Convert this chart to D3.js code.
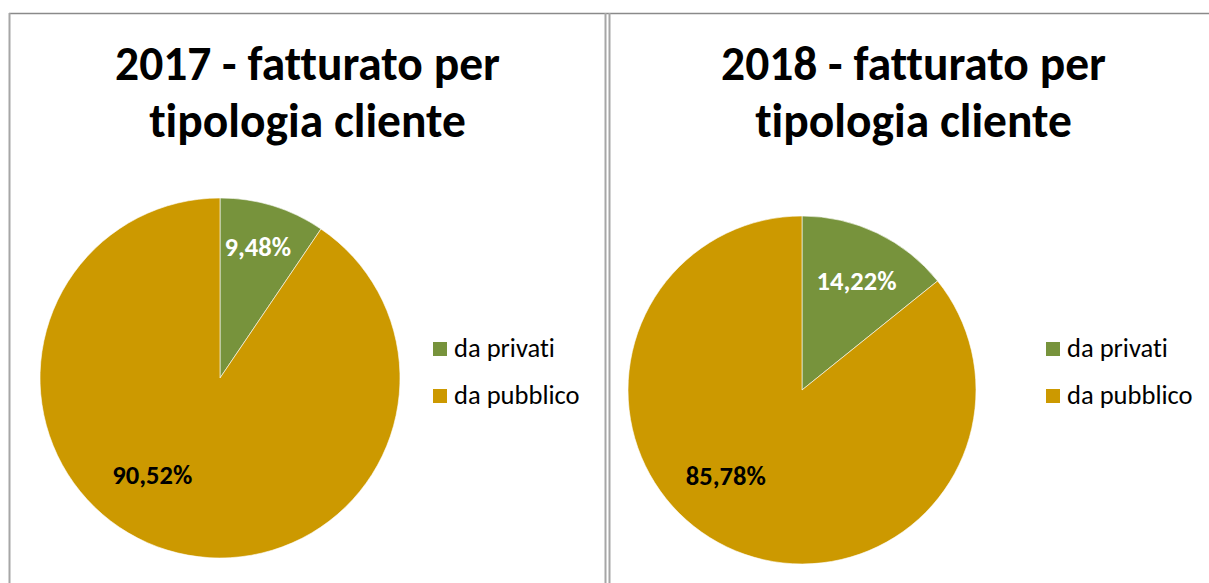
<!DOCTYPE html>
<html>
<head>
<meta charset="utf-8">
<script src="https://cdn.jsdelivr.net/npm/d3@7"></script>
<style>
  body { margin: 0; background: #fff; }
  svg { display: block; }
  text { font-family: Carlito, Calibri, "Open Sans", sans-serif; font-variant-ligatures: none; font-feature-settings: "liga" 0, "clig" 0; }
</style>
</head>
<body>
<div id="chart"></div>
<script>
// data
const categories = ['da privati', 'da pubblico'];
const years = ['2017', '2018'];
const values2017 = [9.48, 90.52];
const values2018 = [14.22, 85.78];
const valueLabels2017 = ['9,48%', '90,52%'];
const valueLabels2018 = ['14,22%', '85,78%'];
const titleLines = ['fatturato per', 'tipologia cliente'];

const colors = ['#77933C', '#CC9900'];
const labelColors = ['#ffffff', '#000000'];

const width = 1209;
const height = 583;

// panel layout
const panels = [
    { x: 9.5, w: 596, cx: 220, cy: 378, r: 180, legendX: 433,
      values: values2017, labels: valueLabels2017, year: years[0],
      labelPos: [{ f: 0.76, da: -1 }, { f: 0.655, da: 18 }] },
    { x: 609.5, w: 608, cx: 802, cy: 390, r: 174, legendX: 1046,
      values: values2018, labels: valueLabels2018, year: years[1],
      labelPos: [{ f: 0.70, da: 1 }, { f: 0.66, da: 16 }] }
];

const svg = d3.select('#chart')
    .append('svg')
    .attr('width', width)
    .attr('height', height);

// fit a text's font size to a target width
const fitSize = (str, weight, base, target) => {
    const t = svg.append('text')
        .attr('font-size', base)
        .attr('font-weight', weight)
        .text(str);
    const w = t.node().getComputedTextLength();
    t.remove();
    return base * target / w;
};

const titleSize = fitSize('2017 - fatturato per', 'bold', 40, 385);
const labelSize = fitSize('90,52%', 'bold', 22, 80);
const legendSize = fitSize('da privati', 'normal', 20, 101);

// borders
svg.append('line')
    .attr('x1', 9).attr('x2', width)
    .attr('y1', 13.5).attr('y2', 13.5)
    .attr('stroke', '#8a8a8a')
    .attr('stroke-width', 1.5);

[9.5, 605.5, 609.5].forEach(x => {
    svg.append('line')
        .attr('x1', x).attr('x2', x)
        .attr('y1', 13).attr('y2', height)
        .attr('stroke', '#a6a6a6')
        .attr('stroke-width', 2);
});

const pie = d3.pie().sort(null).value(d => d);

panels.forEach(p => {
    const g = svg.append('g');

    // title
    const title = g.append('text')
        .attr('text-anchor', 'middle')
        .attr('font-weight', 'bold')
        .attr('font-size', titleSize)
        .attr('fill', '#000');
    title.append('tspan')
        .attr('x', p.x + p.w / 2)
        .attr('y', 80)
        .text(`${p.year} - ${titleLines[0]}`);
    title.append('tspan')
        .attr('x', p.x + p.w / 2)
        .attr('y', 137)
        .text(titleLines[1]);

    // pie
    const arc = d3.arc().innerRadius(0).outerRadius(p.r);
    const pieG = g.append('g')
        .attr('transform', `translate(${p.cx}, ${p.cy})`);

    const arcs = pie(p.values);

    pieG.selectAll('path')
        .data(arcs)
        .enter()
        .append('path')
            .attr('d', arc)
            .attr('fill', (d, i) => colors[i])
            .attr('stroke', '#fff')
            .attr('stroke-width', 0.6);

    pieG.selectAll('text.value')
        .data(arcs)
        .enter()
        .append('text')
            .attr('class', 'value')
            .attr('text-anchor', 'middle')
            .attr('dy', '0.35em')
            .attr('font-weight', 'bold')
            .attr('font-size', labelSize)
            .attr('fill', (d, i) => labelColors[i])
            .attr('x', (d, i) => {
                const a = (d.startAngle + d.endAngle) / 2 + p.labelPos[i].da * Math.PI / 180;
                return Math.sin(a) * p.r * p.labelPos[i].f;
            })
            .attr('y', (d, i) => {
                const a = (d.startAngle + d.endAngle) / 2 + p.labelPos[i].da * Math.PI / 180;
                return -Math.cos(a) * p.r * p.labelPos[i].f;
            })
            .text((d, i) => p.labels[i]);

    // legend
    const legend = g.selectAll('g.legend')
        .data(categories)
        .enter()
        .append('g')
            .attr('class', 'legend')
            .attr('transform', (d, i) => `translate(${p.legendX}, ${342 + i * 47})`);

    legend.append('rect')
        .attr('width', 14)
        .attr('height', 14)
        .attr('fill', (d, i) => colors[i]);

    legend.append('text')
        .attr('x', 21)
        .attr('y', 15)
        .attr('font-size', legendSize)
        .attr('fill', '#000')
        .text(d => d);
});
</script>
</body>
</html>
